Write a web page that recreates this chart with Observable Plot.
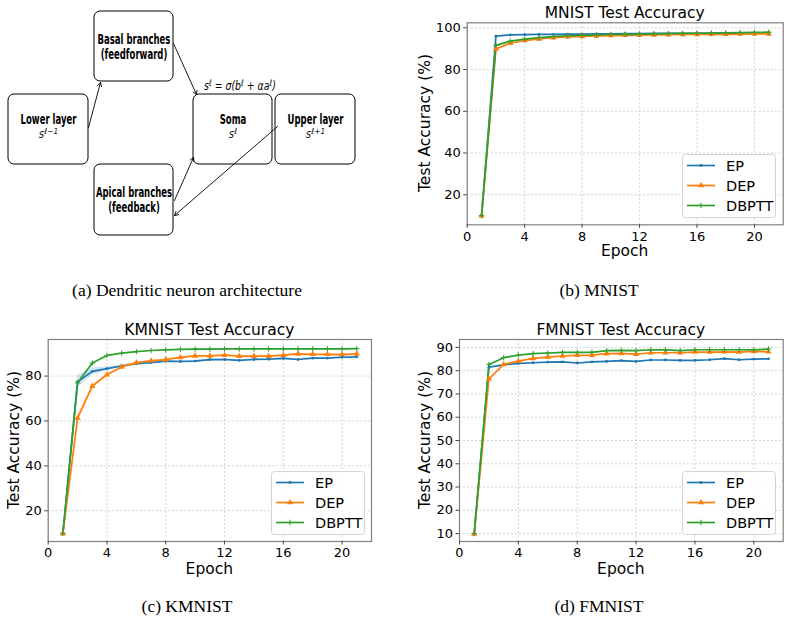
<!DOCTYPE html>
<html>
<head>
<meta charset="utf-8">
<script src="https://cdn.jsdelivr.net/npm/d3@7"></script>
<script src="https://cdn.jsdelivr.net/npm/@observablehq/plot@0.6"></script>
<style>
  html, body { margin: 0; padding: 0; background: #fff; }
  #fig { position: relative; width: 790px; height: 621px; background: #fff; overflow: hidden; }
  #fig > svg, #fig > .plot { position: absolute; }
  .txt { position: absolute; white-space: nowrap; transform: translate(-50%, -50%); color: #000; }
  .title, .axlab { font-family: "DejaVu Sans", sans-serif; font-size: 15.5px; }
  .ylab { transform: translate(-50%, -50%) rotate(-90deg); }
  .caption { font-family: "Liberation Serif", "Times New Roman", serif; font-size: 17.5px; }
</style>
</head>
<body>
<div id="fig"></div>
<script>
// ---------- training curves (test accuracy %, per epoch) ----------
const epochs = [1, 2, 3, 4, 5, 6, 7, 8, 9, 10, 11, 12, 13, 14, 15, 16, 17, 18, 19, 20, 21];
const methods = ["EP", "DEP", "DBPTT"];
const methodColors = ["#1f77b4", "#ff7f0e", "#2ca02c"];
const xTicks = [0, 4, 8, 12, 16, 20];

const mnistEP    = [10.0, 96.0, 96.6, 96.7, 96.9, 96.9, 97.0, 97.0, 97.1, 97.1, 97.2, 97.2, 97.3, 97.3, 97.3, 97.4, 97.4, 97.5, 97.5, 97.6, 97.6];
const mnistDEP   = [9.8, 89.9, 92.6, 93.9, 94.7, 95.3, 95.7, 95.9, 96.1, 96.3, 96.4, 96.5, 96.6, 96.7, 96.8, 96.8, 96.9, 96.9, 97.0, 97.1, 97.1];
const mnistDBPTT = [10.0, 91.6, 93.6, 94.6, 95.3, 95.8, 96.2, 96.4, 96.6, 96.8, 96.9, 97.0, 97.1, 97.2, 97.3, 97.4, 97.5, 97.6, 97.7, 97.8, 97.9];
const mnistYTicks = [20, 40, 60, 80, 100];

const kmnistEP    = [10.0, 77.5, 82.1, 83.3, 84.5, 85.5, 86.0, 86.7, 86.5, 86.7, 87.3, 87.4, 87.0, 87.4, 87.5, 87.9, 87.4, 88.0, 88.0, 88.4, 88.6];
const kmnistDEP   = [9.8, 61.3, 75.5, 80.6, 84.1, 86.0, 86.8, 87.3, 88.3, 89.0, 89.0, 89.3, 88.9, 88.9, 88.9, 89.3, 89.9, 89.7, 89.7, 89.6, 89.9];
const kmnistDBPTT = [10.0, 77.0, 85.8, 89.2, 90.2, 90.9, 91.4, 91.7, 91.9, 92.0, 92.0, 92.1, 92.1, 92.1, 92.1, 92.1, 92.1, 92.1, 92.1, 92.1, 92.2];
// spread across runs (± std), visible in the first epochs
const kmnistEPStd  = [0, 2.8, 1.6, 0.9, 0.5, 0.4, 0.3, 0.3, 0.3, 0.3, 0.3, 0.3, 0.3, 0.3, 0.3, 0.3, 0.3, 0.3, 0.3, 0.3, 0.3];
const kmnistDEPStd = [0, 1.2, 0.9, 0.6, 0.4, 0.3, 0.3, 0.3, 0.3, 0.3, 0.3, 0.3, 0.3, 0.3, 0.3, 0.3, 0.3, 0.3, 0.3, 0.3, 0.3];
const kmnistYTicks = [20, 40, 60, 80];

const fmnistEP    = [10.0, 81.5, 82.5, 83.1, 83.4, 83.7, 83.8, 83.3, 83.8, 84.0, 84.3, 84.0, 84.6, 84.6, 84.4, 84.4, 84.7, 85.2, 84.7, 85.0, 85.1];
const fmnistDEP   = [9.8, 76.5, 82.7, 84.1, 85.3, 85.8, 86.3, 86.6, 86.7, 87.3, 87.4, 87.1, 87.7, 87.7, 87.7, 88.0, 88.0, 88.1, 88.0, 88.3, 88.1];
const fmnistDBPTT = [10.0, 82.7, 85.6, 86.7, 87.3, 87.6, 87.9, 87.9, 87.9, 88.6, 88.7, 88.6, 89.0, 88.9, 88.6, 89.0, 89.0, 89.0, 89.0, 88.9, 89.3];
const fmnistYTicks = [10, 20, 30, 40, 50, 60, 70, 80, 90];

// ---------- dendritic neuron diagram ----------
const nodeNames  = ["Lower layer", "Basal branches\n(feedforward)", "Apical branches\n(feedback)", "Soma", "Upper layer"];
const nodeStates = ["s^{ℓ−1}", "", "", "s^{ℓ}", "s^{ℓ+1}"];
const nodeX1 = [8, 94, 94, 193, 275];
const nodeX2 = [88, 173, 173, 272, 355];
const nodeY1 = [94, 11, 164, 94, 94];
const nodeY2 = [164, 81, 235, 164, 164];
// connections: [from x, from y, to x, to y]
const edges = [
  [88, 127, 100, 82],
  [173, 43, 196, 94],
  [174, 200, 193, 157],
  [277, 126, 174, 215]
];
const somaRule = "s^{ℓ} = σ(b^{ℓ} + αa^{ℓ})";

const fig = d3.select("#fig");

function addText(cls, text, x, y) {
  fig.append("div").attr("class", "txt " + cls).style("left", x + "px").style("top", y + "px").text(text);
}

// turn "x^{...}" into raised tspans inside Plot text elements
function raiseSuperscripts(svg) {
  d3.select(svg).selectAll("text").each(function () {
    const t = this.textContent;
    if (!t.includes("^{")) return;
    const sel = d3.select(this);
    sel.text(null);
    let raised = false;
    t.split(/(\^\{[^}]*\})/).forEach(p => {
      if (!p) return;
      if (p.startsWith("^{")) {
        sel.append("tspan").attr("dy", "-4px").attr("font-size", "0.72em").text(p.slice(2, -1));
        raised = true;
      } else {
        const ts = sel.append("tspan").text(p);
        if (raised) ts.attr("dy", "4px");
        raised = false;
      }
    });
  });
}

// horizontally condense the text elements of one text mark group
function condense(group, k) {
  d3.select(group).selectAll("text").each(function () {
    const tr = this.getAttribute("transform") || "";
    this.setAttribute("transform", tr + ` scale(${k},1)`);
  });
}

function drawDiagram() {
  const nodes = nodeNames.map((name, i) => ({
    name, state: nodeStates[i],
    x1: nodeX1[i], x2: nodeX2[i], y1: nodeY1[i], y2: nodeY2[i],
    cx: (nodeX1[i] + nodeX2[i]) / 2, cy: (nodeY1[i] + nodeY2[i]) / 2,
    hasState: nodeStates[i] !== ""
  }));
  const links = edges.map(([x1, y1, x2, y2]) => ({x1, y1, x2, y2}));
  const soma = nodes[3];
  const svg = Plot.plot({
    width: 365, height: 245,
    margin: 0,
    x: {domain: [0, 365], axis: null},
    y: {domain: [0, 245], reverse: true, axis: null},
    style: {background: "transparent", overflow: "visible"},
    marks: [
      Plot.rect(nodes, {x1: "x1", x2: "x2", y1: "y1", y2: "y2", rx: 6, fill: "#fff", stroke: "#000", strokeWidth: 1}),
      Plot.arrow(links, {x1: "x1", y1: "y1", x2: "x2", y2: "y2", stroke: "#000", strokeWidth: 0.9, headLength: 7, insetStart: 0, insetEnd: 0}),
      Plot.text(nodes, {
        x: "cx", y: d => d.hasState ? d.cy - 10 : d.cy, text: "name",
        fontFamily: "'DejaVu Sans', sans-serif",
        fontWeight: "bold", fontSize: 13.5, lineHeight: 1.12, fill: "#000"
      }),
      Plot.text(nodes.filter(d => d.hasState), {
        x: "cx", y: d => d.cy + 4.5, text: "state",
        fontFamily: "'DejaVu Sans', sans-serif", fontStyle: "italic", fontSize: 11.5, fill: "#222"
      }),
      Plot.text([somaRule], {
        x: soma.cx + 7, y: soma.y1 - 9, text: d => d,
        fontFamily: "'DejaVu Sans', sans-serif", fontStyle: "italic", fontSize: 12.5, fill: "#000"
      })
    ]
  });
  raiseSuperscripts(svg);
  // text mark groups in drawing order: node names, node states, soma rule
  const groups = d3.select(svg).selectAll('g[aria-label="text"]').nodes();
  condense(groups[0], 0.63);
  condense(groups[1], 0.9);
  condense(groups[2], 0.75);
  d3.select(svg).style("left", "0px").style("top", "0px");
  fig.node().appendChild(svg);
}

function rowsOf(series, stds) {
  const rows = [];
  methods.forEach((m, k) => {
    series[k].forEach((v, i) => {
      const s = stds && stds[k] ? stds[k][i] : 0;
      rows.push({epoch: epochs[i], acc: v, lo: v - s, hi: v + s, method: m});
    });
  });
  return rows;
}

function drawChart(cfg) {
  const rows = rowsOf(cfg.series, cfg.stds);
  const svg = Plot.plot({
    width: cfg.width, height: cfg.height,
    marginLeft: cfg.ml, marginRight: cfg.mr, marginTop: cfg.mt, marginBottom: cfg.mb,
    x: {domain: [0, 22]},
    y: {domain: cfg.yDomain},
    color: {domain: methods, range: methodColors},
    style: {fontFamily: "'DejaVu Sans', sans-serif", fontSize: "13px", color: "#000", background: "transparent", overflow: "visible"},
    marks: [
      Plot.gridX({ticks: xTicks, stroke: "#b0b0b0", strokeOpacity: 0.55, strokeDasharray: "2,2"}),
      Plot.gridY({ticks: cfg.yTicks, stroke: "#b0b0b0", strokeOpacity: 0.55, strokeDasharray: "2,2"}),
      cfg.stds ? Plot.areaY(rows.filter(d => cfg.stds[methods.indexOf(d.method)]), {x: "epoch", y1: "lo", y2: "hi", z: "method", fill: "method", fillOpacity: 0.2}) : null,
      Plot.lineY(rows, {x: "epoch", y: "acc", z: "method", stroke: "method", strokeWidth: 1.7}),
      Plot.dot(rows.filter(d => d.method === "EP"), {x: "epoch", y: "acc", r: 1.4, fill: methodColors[0], symbol: "circle"}),
      Plot.dot(rows.filter(d => d.method === "DEP"), {x: "epoch", y: "acc", r: 2.3, fill: methodColors[1], symbol: "triangle"}),
      Plot.dot(rows.filter(d => d.method === "DBPTT"), {x: "epoch", y: "acc", r: 1.9, stroke: methodColors[2], strokeWidth: 1, symbol: "plus"}),
      Plot.frame({stroke: "#808080", strokeWidth: 1.2}),
      Plot.axisX({ticks: xTicks, label: null, tickSize: 3.5, tickPadding: 3, stroke: "#444"}),
      Plot.axisY({ticks: cfg.yTicks, label: null, tickSize: 3.5, tickPadding: 3, stroke: "#444"})
    ]
  });
  d3.select(svg).style("left", cfg.left + "px").style("top", cfg.top + "px");
  fig.node().appendChild(svg);

  const fx1 = cfg.left + cfg.ml, fx2 = cfg.left + cfg.width - cfg.mr;
  const fy1 = cfg.top + cfg.mt, fy2 = cfg.top + cfg.height - cfg.mb;
  addText("title", cfg.title, (fx1 + fx2) / 2, cfg.titleY);
  addText("axlab", "Epoch", (fx1 + fx2) / 2, cfg.xlabY);
  addText("axlab ylab", "Test Accuracy (%)", cfg.ylabX, (fy1 + fy2) / 2);
  drawLegend(cfg.legend);
}

function drawLegend(box) {
  const w = 94, h = 64;
  const svg = fig.append("svg").attr("width", w).attr("height", h)
    .style("left", box.x + "px").style("top", box.y + "px");
  svg.append("rect").attr("x", 0.5).attr("y", 0.5).attr("width", w - 1).attr("height", h - 1)
    .attr("rx", 3).attr("fill", "rgba(255,255,255,0.85)").attr("stroke", "#d4d4d4");
  const shapes = [d3.symbolCircle, d3.symbolTriangle, d3.symbolPlus];
  const sizes = [7, 17, 12];
  methods.forEach((m, i) => {
    const y = 11.5 + i * 20;
    svg.append("line").attr("x1", 5).attr("x2", 33).attr("y1", y).attr("y2", y)
      .attr("stroke", methodColors[i]).attr("stroke-width", 1.7);
    const sym = svg.append("path").attr("transform", `translate(19,${y})`).attr("d", d3.symbol(shapes[i], sizes[i])());
    if (i === 2) sym.attr("fill", "none").attr("stroke", methodColors[i]).attr("stroke-width", 1);
    else sym.attr("fill", methodColors[i]);
    svg.append("text").attr("x", 44).attr("y", y).attr("dy", "0.36em")
      .attr("font-family", "'DejaVu Sans', sans-serif").attr("font-size", 14.5).text(m);
  });
}

drawDiagram();

drawChart({
  title: "MNIST Test Accuracy",
  series: [mnistEP, mnistDEP, mnistDBPTT],
  yDomain: [5.6, 102.4], yTicks: mnistYTicks,
  left: 395, top: 0, width: 395, height: 275, ml: 71.7, mr: 7.3, mt: 22.3, mb: 50.7,
  titleY: 13, xlabY: 251, ylabX: 425,
  legend: {x: 682, y: 154}
});

drawChart({
  title: "KMNIST Test Accuracy",
  series: [kmnistEP, kmnistDEP, kmnistDBPTT],
  stds: [kmnistEPStd, kmnistDEPStd, null],
  yDomain: [6.3, 96.3], yTicks: kmnistYTicks,
  left: 0, top: 310, width: 395, height: 275, ml: 47.7, mr: 24, mt: 29, mb: 44,
  titleY: 330, xlabY: 569, ylabX: 14,
  legend: {x: 271, y: 471}
});

drawChart({
  title: "FMNIST Test Accuracy",
  series: [fmnistEP, fmnistDEP, fmnistDBPTT],
  yDomain: [6.6, 93.4], yTicks: fmnistYTicks,
  left: 395, top: 310, width: 395, height: 275, ml: 64, mr: 7.3, mt: 29, mb: 44,
  titleY: 330, xlabY: 569, ylabX: 425,
  legend: {x: 682, y: 471}
});

addText("caption", "(a) Dendritic neuron architecture", 187, 290);
addText("caption", "(b) MNIST", 599, 290);
addText("caption", "(c) KMNIST", 187, 606);
addText("caption", "(d) FMNIST", 599, 606);
</script>
</body>
</html>
